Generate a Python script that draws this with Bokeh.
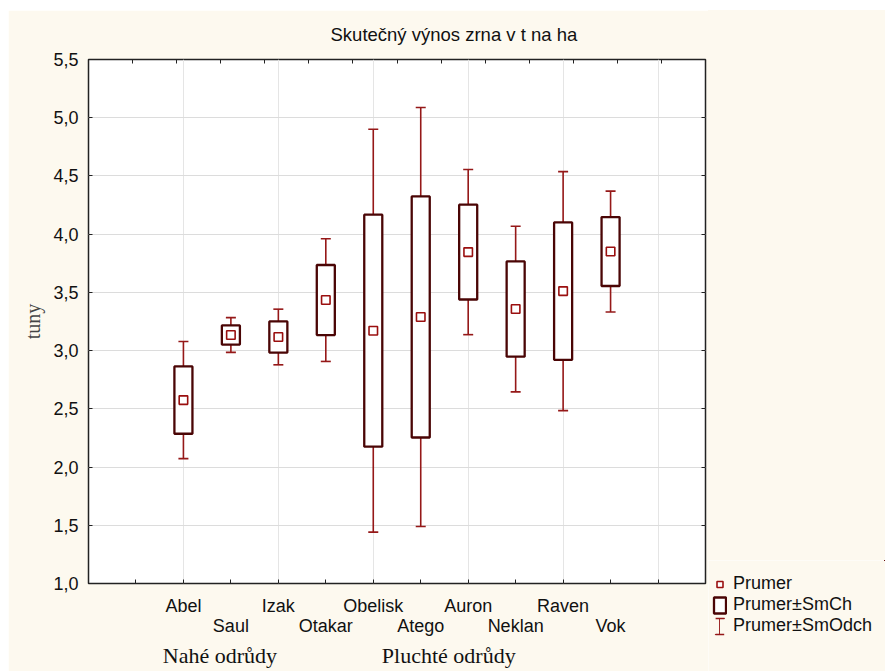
from bokeh.plotting import figure
from bokeh.layouts import column, row
from bokeh.models import (Range1d, LinearAxis, FixedTicker, CustomJSTickFormatter, Title, Spacer,
                          Legend, LegendItem, Whisker, TeeHead, ColumnDataSource, Grid)
from bokeh.embed import file_html
from bokeh.resources import INLINE

# ---------------- data ----------------
varieties = ["Abel", "Saul", "Izak", "Otakar", "Obelisk", "Atego", "Auron", "Neklan", "Raven", "Vok"]
mean = [2.575, 3.134, 3.117, 3.434, 3.171, 3.289, 3.846, 3.357, 3.511, 3.851]
se = [0.289, 0.082, 0.134, 0.301, 0.996, 1.035, 0.407, 0.409, 0.590, 0.296]
sd = [0.503, 0.149, 0.239, 0.527, 1.730, 1.799, 0.709, 0.711, 1.026, 0.519]
groups = ["Nahé odrůdy", "Pluchté odrůdy"]
y_ticks = [1.0, 1.5, 2.0, 2.5, 3.0, 3.5, 4.0, 4.5, 5.0, 5.5]
title_text = "Skutečný výnos zrna v t na ha"
y_label = "tuny"
legend_labels = ["Prumer", "Prumer±SmCh", "Prumer±SmOdch"]

# ---------------- styling ----------------
SANS = "Liberation Sans"
SERIF = "Liberation Serif"
BOX_COLOR = "#4a0505"
WHISK_COLOR = "#951818"
MEAN_COLOR = "#9a0f0f"
CREAM = "#fdf9ef"

x = [i + 2 for i in range(len(varieties))]          # category slots
group_x = [2.77, 7.59]                                # group caption centres
src = ColumnDataSource(dict(
    x=x, mean=mean,
    box_lo=[m - s for m, s in zip(mean, se)], box_hi=[m + s for m, s in zip(mean, se)],
    wh_lo=[m - s for m, s in zip(mean, sd)], wh_hi=[m + s for m, s in zip(mean, sd)],
))

H = 661
p = figure(width=700, height=H, output_backend="svg", toolbar_location=None, title_location=None,
           x_range=Range1d(0, 13), y_range=Range1d(1.0, 5.5),
           x_axis_location=None, y_axis_location=None,
           min_border_left=80, min_border_right=3, min_border_top=48, min_border_bottom=88)
p.border_fill_color = CREAM
p.background_fill_color = "white"
p.outline_line_color = "#222222"
p.outline_line_width = 1.5

# grid
p.add_layout(Grid(dimension=1, ticker=FixedTicker(ticks=y_ticks),
                  grid_line_color="#dcdcdc", grid_line_width=1.2))

def style_axis(ax):
    ax.axis_line_color = None
    ax.major_tick_line_color = "#222222"
    ax.minor_tick_line_color = None
    ax.major_tick_out = 0
    ax.major_label_text_font = SANS
    ax.major_label_text_font_size = "18px"
    ax.major_label_text_color = "#111111"

# left axis
left = LinearAxis(ticker=FixedTicker(ticks=y_ticks),
                  formatter=CustomJSTickFormatter(code="return tick.toFixed(1).replace('.', ',');"),
                  axis_label=y_label)
style_axis(left)
left.major_tick_in = 4
left.major_label_standoff = 10
left.axis_label_text_font = SERIF
left.axis_label_text_font_style = "normal"
left.axis_label_text_font_size = "20px"
left.axis_label_standoff = 6
p.add_layout(left, "left")

# right axis (ticks only)
right = LinearAxis(ticker=FixedTicker(ticks=y_ticks), formatter=CustomJSTickFormatter(code="return '';"))
style_axis(right)
right.major_tick_in = 4
right.major_label_text_font_size = "0px"
right.major_label_standoff = 0
p.add_layout(right, "right")

# top axis (ticks only)
top_ticks = [13 * k / 14 for k in range(1, 14)]
top = LinearAxis(ticker=FixedTicker(ticks=top_ticks), formatter=CustomJSTickFormatter(code="return '';"))
style_axis(top)
top.major_tick_in = 4
top.major_label_text_font_size = "0px"
top.major_label_standoff = 0
p.add_layout(top, "above")

# title
p.add_layout(Title(text=title_text, align="left", offset=242, standoff=26, vertical_align="top",
                   text_font=SANS, text_font_size="18.5px", text_font_style="normal",
                   text_color="#111111"), "above")

# bottom axis: ticks + first label row
row1_x, row1_names = x[0::2], varieties[0::2]
row2_x, row2_names = x[1::2], varieties[1::2]
fmt_code = "const i = pos.indexOf(tick); return i < 0 ? '' : names[i];"
bottom_a = LinearAxis(ticker=FixedTicker(ticks=list(range(1, 13))),
                      formatter=CustomJSTickFormatter(args=dict(pos=row1_x, names=row1_names), code=fmt_code))
style_axis(bottom_a)
bottom_a.major_tick_in = 4
bottom_a.major_label_standoff = 12
p.add_layout(bottom_a, "below")

bottom_b = LinearAxis(ticker=FixedTicker(ticks=row2_x),
                      formatter=CustomJSTickFormatter(args=dict(pos=row2_x, names=row2_names), code=fmt_code))
style_axis(bottom_b)
bottom_b.major_tick_in = 0
bottom_b.major_tick_line_color = None
bottom_b.major_label_standoff = -3
p.add_layout(bottom_b, "below")

bottom_c = LinearAxis(ticker=FixedTicker(ticks=group_x),
                      formatter=CustomJSTickFormatter(args=dict(pos=group_x, names=groups),
                                                      code="let i = 0; let best = 1e9; for (let k = 0; k < pos.length; k++) { const d = Math.abs(pos[k] - tick); if (d < best) { best = d; i = k; } } return names[i];"))
style_axis(bottom_c)
bottom_c.major_tick_in = 0
bottom_c.major_tick_line_color = None
bottom_c.major_label_standoff = 4
bottom_c.major_label_text_font = SERIF
bottom_c.major_label_text_font_size = "22px"
p.add_layout(bottom_c, "below")

# whiskers (mean ± SD)
wh = Whisker(source=src, base="x", lower="wh_lo", upper="wh_hi", dimension="height",
             line_color=WHISK_COLOR, line_width=1.6, level="underlay",
             lower_head=TeeHead(size=10, line_color=WHISK_COLOR, line_width=1.6),
             upper_head=TeeHead(size=10, line_color=WHISK_COLOR, line_width=1.6))
p.add_layout(wh)

# boxes (mean ± SE)
p.vbar(x="x", width=0.38, bottom="box_lo", top="box_hi", source=src,
       fill_color="white", line_color=BOX_COLOR, line_width=2.3)
# means
p.scatter(x="x", y="mean", source=src, marker="square", size=8.5,
          fill_color="white", line_color=MEAN_COLOR, line_width=1.6)

# ---------------- legend panel (companion figure; its key glyphs lie outside its view) ----------------
LG_W, LG_H = 177, 111
lg = figure(width=LG_W, height=LG_H, output_backend="svg", toolbar_location=None, title_location=None,
            x_range=Range1d(0, 1), y_range=Range1d(0, 1),
            x_axis_location=None, y_axis_location=None, min_border=0)
lg.border_fill_color = CREAM
lg.background_fill_color = CREAM
lg.outline_line_color = None
lg.xgrid.visible = False
lg.ygrid.visible = False

k_mean = lg.scatter(x="x", y="mean", source=src, marker="square", size=8.5,
                    fill_color="white", line_color=MEAN_COLOR, line_width=1.6)
k_box = lg.vbar(x="x", width=0.38, bottom="box_lo", top="box_hi", source=src,
                fill_color="white", line_color=BOX_COLOR, line_width=2.3)
k_blank = lg.scatter(x="x", y="mean", source=src, marker="square", size=6,
                     fill_alpha=0, line_alpha=0)
k_caps = lg.vbar(x="x", width=0.38, bottom="wh_lo", top="wh_hi", source=src, fill_alpha=0,
                 line_color=WHISK_COLOR, line_width=1.5, line_dash="9 16")
k_stem = lg.vbar(x="x", width=0.38, bottom="wh_lo", top="wh_hi", source=src, fill_alpha=0,
                 line_color=WHISK_COLOR, line_width=1.0)

common = dict(orientation="vertical", background_fill_alpha=0, border_line_color=None,
              padding=0, margin=0, spacing=0, glyph_height=20, label_height=20, label_standoff=6,
              label_text_font=SANS, label_text_font_size="18px", label_text_color="#111111")
legend = Legend(items=[LegendItem(label=legend_labels[0], renderers=[k_mean]),
                       LegendItem(label=legend_labels[1], renderers=[k_box]),
                       LegendItem(label=legend_labels[2], renderers=[k_blank])],
                location=(4, 35), glyph_width=15, **common)
legend_caps = Legend(items=[LegendItem(label=" ", renderers=[k_caps])],
                     location=(6, 35), glyph_width=11, **common)
legend_stem = Legend(items=[LegendItem(label=" ", renderers=[k_stem])],
                     location=(11, 35), glyph_width=1, **common)
lg.add_layout(legend, "center")
lg.add_layout(legend_caps, "center")
lg.add_layout(legend_stem, "center")

right_col = column(Spacer(width=LG_W, height=H - LG_H, styles={"background-color": CREAM}), lg)
page = column(Spacer(width=885, height=10), row(Spacer(width=8, height=H), p, right_col))
open("out.html", "w").write(file_html(page, INLINE, title="Skutečný výnos zrna"))
